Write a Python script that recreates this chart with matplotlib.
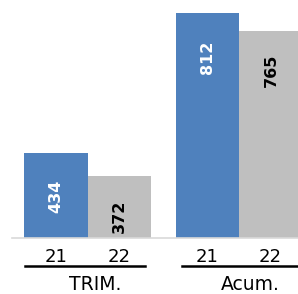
import matplotlib
matplotlib.use("Agg")
import matplotlib.pyplot as plt

groups = ["TRIM.", "Acum."]
years = ["21", "22"]
values_21 = [434, 812]
values_22 = [372, 765]

blue = "#4F81BD"
gray = "#BFBFBF"

fig = plt.figure(figsize=(2.98, 2.94), dpi=100)
ax = fig.add_axes([0, (294 - 238) / 294, 1, 238 / 294])

w = 1.0
centers = [0.0, 2.386]
for i, c in enumerate(centers):
    ax.bar(c, values_21[i], width=w, color=blue, bottom=0)
    ax.bar(c + w, values_22[i], width=w, color=gray, bottom=0)
    ax.annotate(str(values_21[i]), (c, values_21[i]), xytext=(0, -27),
                textcoords="offset pixels", rotation=90, ha="center", va="top",
                color="white", fontweight="bold", fontsize=11.5)
    ax.annotate(str(values_22[i]), (c + w, values_22[i]), xytext=(0, -23.5),
                textcoords="offset pixels", rotation=90, ha="center", va="top",
                color="black", fontweight="bold", fontsize=11.5)

ax.set_xlim(-0.882, 3.811)
ax.set_ylim(204.5, 847.7)
ax.axis("off")

def fx(px):
    return px / 298

def fy(py):
    return (294 - py) / 294

# baseline
fig.add_artist(plt.Line2D([fx(12), 1], [fy(238)] * 2, color="#D9D9D9", lw=1.2))

# tick labels
tick_px = [56, 119.5, 207.5, 270.5]
for k, px in enumerate(tick_px):
    fig.text(fx(px), fy(257), years[k % 2], ha="center", va="center", fontsize=13)

# underlines
fig.add_artist(plt.Line2D([fx(25), fx(145)], [fy(266)] * 2, color="black", lw=1.8))
fig.add_artist(plt.Line2D([fx(182), fx(298)], [fy(266)] * 2, color="black", lw=1.8))

fig.text(fx(95), fy(284), groups[0], ha="center", va="center", fontsize=13.5)
fig.text(fx(250), fy(284), groups[1], ha="center", va="center", fontsize=13.5)

fig.savefig("out.png", dpi=100)
